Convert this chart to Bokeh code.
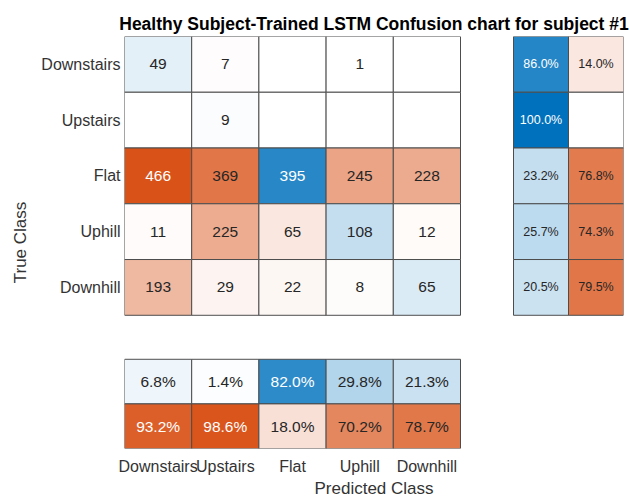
from bokeh.plotting import figure
from bokeh.models import ColumnDataSource, Range1d, FixedTicker
from bokeh.core.properties import value
from bokeh.embed import file_html
from bokeh.resources import INLINE

# ---------------- data ----------------
classes = ["Downstairs", "Upstairs", "Flat", "Uphill", "Downhill"]
# counts[true class][predicted class]
counts = [
    [49, 7, 0, 1, 0],
    [0, 9, 0, 0, 0],
    [466, 369, 395, 245, 228],
    [11, 225, 65, 108, 12],
    [193, 29, 22, 8, 65],
]
row_correct = [86.0, 100.0, 23.2, 25.7, 20.5]
row_wrong = [14.0, 0.0, 76.8, 74.3, 79.5]
col_correct = [6.8, 1.4, 82.0, 29.8, 21.3]
col_wrong = [93.2, 98.6, 18.0, 70.2, 78.7]

title = "Healthy Subject-Trained LSTM Confusion chart for subject #1"

# ---------------- layout (pixels -> data units) ----------------
CELL_W = 67.2      # px, main cell width  (1 data unit in x)
CELL_H = 55.75     # px, main cell height (1 data unit in y)
GAP_X = 53.0       # px, gap between matrix and row summary
RS_W = 55.0        # px, row summary cell width
GAP_Y = 44.0       # px, gap between matrix and column summary
CS_H = 44.6        # px, column summary cell height
FRAME_W = 5 * CELL_W + GAP_X + 2 * RS_W
FRAME_H = 5 * CELL_H + GAP_Y + 2 * CS_H

n = len(classes)
RS_X0 = -0.5 + (5 * CELL_W + GAP_X) / CELL_W
RS_DW = RS_W / CELL_W
CS_Y0 = -0.5 + (5 * CELL_H + GAP_Y) / CELL_H
CS_DH = CS_H / CELL_H

BLUE = (0, 114, 189)
ORANGE = (217, 83, 25)
DARK = "#262626"
FONT = "Liberation Sans"


def shade(base, t):
    c = [round(255 + t * (b - 255)) for b in base]
    return "#%02x%02x%02x" % tuple(c), c


def text_col(c):
    lum = 0.299 * c[0] + 0.587 * c[1] + 0.114 * c[2]
    return "white" if lum < 130 else DARK


vmax = max(max(r) for r in counts)

big = dict(left=[], right=[], top=[], bottom=[], fill=[], x=[], y=[], label=[], tc=[])
small = dict(left=[], right=[], top=[], bottom=[], fill=[], x=[], y=[], label=[], tc=[])


def add(d, l, r, t, b, v, t_norm, base, label):
    if v > 0:
        hexc, c = shade(base, t_norm)
        d["fill"].append(hexc)
        d["label"].append(label)
        d["tc"].append(text_col(c))
    else:
        d["fill"].append("#ffffff")
        d["label"].append("")
        d["tc"].append(DARK)
    d["left"].append(l)
    d["right"].append(r)
    d["top"].append(t)
    d["bottom"].append(b)
    d["x"].append((l + r) / 2)
    d["y"].append((t + b) / 2)


# main matrix
for i in range(n):
    for j in range(n):
        v = counts[i][j]
        add(big, j - 0.5, j + 0.5, i - 0.5, i + 0.5, v, v / vmax,
            BLUE if i == j else ORANGE, str(v))

# column summary
for j in range(n):
    add(big, j - 0.5, j + 0.5, CS_Y0, CS_Y0 + CS_DH, col_correct[j],
        col_correct[j] / 100, BLUE, "%.1f%%" % col_correct[j])
    add(big, j - 0.5, j + 0.5, CS_Y0 + CS_DH, CS_Y0 + 2 * CS_DH, col_wrong[j],
        col_wrong[j] / 100, ORANGE, "%.1f%%" % col_wrong[j])

# row summary
for i in range(n):
    add(small, RS_X0, RS_X0 + RS_DW, i - 0.5, i + 0.5, row_correct[i],
        row_correct[i] / 100, BLUE, "%.1f%%" % row_correct[i])
    add(small, RS_X0 + RS_DW, RS_X0 + 2 * RS_DW, i - 0.5, i + 0.5, row_wrong[i],
        row_wrong[i] / 100, ORANGE, "%.1f%%" % row_wrong[i])

p = figure(
    frame_width=round(FRAME_W), frame_height=round(FRAME_H),
    x_range=Range1d(-0.5, -0.5 + FRAME_W / CELL_W),
    y_range=Range1d(-0.5 + FRAME_H / CELL_H, -0.5),
    output_backend="svg", toolbar_location=None, title=title,
    min_border_left=124, min_border_right=6, min_border_top=36, min_border_bottom=0,
)
p.background_fill_color = "white"
p.border_fill_color = "white"
p.outline_line_color = None
p.grid.visible = False

p.title.text_font = FONT
p.title.text_font_size = "17.5px"
p.title.text_font_style = "bold"
p.title.text_color = "black"
p.title.align = "center"
p.title.standoff = 6
p.title.offset = -2

for ax in (p.xaxis[0], p.yaxis[0]):
    ax.ticker = FixedTicker(ticks=list(range(n)))
    ax.major_label_overrides = {k: classes[k] for k in range(n)}
    ax.axis_line_color = None
    ax.major_tick_line_color = None
    ax.minor_tick_line_color = None
    ax.major_tick_out = 0
    ax.major_tick_in = 0
    ax.major_label_text_font = FONT
    ax.major_label_text_font_size = "16px"
    ax.major_label_text_color = "#333333"
    ax.axis_label_text_font = FONT
    ax.axis_label_text_font_size = "17px"
    ax.axis_label_text_font_style = "normal"
    ax.axis_label_text_color = "#333333"

p.xaxis.axis_label = "Predicted Class"
p.yaxis.axis_label = "True Class"
p.xaxis.major_label_standoff = 9
p.xaxis.axis_label_standoff = 1
p.yaxis.major_label_standoff = 4
p.yaxis.axis_label_standoff = 8

for d, fs in ((big, "15.5px"), (small, "12.5px")):
    src = ColumnDataSource(d)
    p.quad(left="left", right="right", top="top", bottom="bottom", source=src,
           fill_color="fill", line_color="#4d4d4d", line_width=1)
    p.text(x="x", y="y", text="label", source=src, text_color="tc",
           text_align="center", text_baseline="middle",
           text_font=value(FONT), text_font_size=fs)

open("out.html", "w").write(file_html(p, INLINE))
